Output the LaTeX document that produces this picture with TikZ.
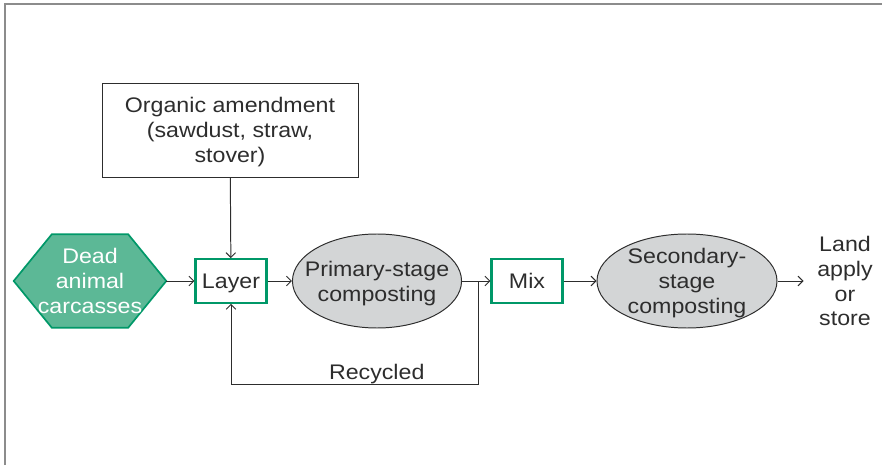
\documentclass[tikz,border=0pt]{standalone}
\usepackage{fontspec}
\setmainfont{Liberation Sans}[FakeStretch=1.1]
\usepackage{tikz}
\usetikzlibrary{arrows.meta}
\usetikzlibrary{positioning,backgrounds,calc}
\usetikzlibrary{shapes.geometric}
\definecolor{carcgreen}{RGB}{0,152,104}
\definecolor{carcfill}{RGB}{92,184,150}
\definecolor{compgray}{RGB}{211,213,214}
\definecolor{edgegray}{RGB}{45,45,45}
\definecolor{framegray}{RGB}{140,140,140}

\begin{document}
\begin{tikzpicture}[
    font=\fontsize{15}{17.6}\selectfont,
    every node/.append style={text depth=0pt},
    flow/.style={-{Straight Barb[length=1.2mm,width=2.4mm]},line width=0.7pt,edgegray},
    greenbox/.style={draw=carcgreen,line width=1.5pt,minimum width=1.775cm,
      minimum height=1.09cm,inner sep=0pt,text=edgegray},
    stagebox/.style={ellipse,draw=edgegray,fill=compgray,line width=0.7pt,
      inner xsep=-0.31cm,inner ysep=0pt,align=center,text=edgegray}]
    \useasboundingbox (0,0) rectangle (22.05,11.625);
    % frame
    \draw[framegray,line width=1pt] (0.125,0) -- (0.125,11.525) -- (22.05,11.525);
    % the boxes
    \node[draw=edgegray,line width=0.7pt,minimum width=6.4cm,minimum height=2.35cm,
      align=center,text=edgegray] (amend) at (5.75,8.375)
      {Organic amendment\\(sawdust, straw,\\stover)};
    \node[minimum width=3.8cm,minimum height=2.325cm,inner sep=0pt,align=center,
      text=white] (dead) at (2.25,4.6) {Dead\\animal\\carcasses};
    \begin{scope}[on background layer]
      \filldraw[fill=carcfill,draw=carcgreen,line width=1.2pt]
        (dead.west) -- ($(dead.north west)!0.25!(dead.north east)$)
        -- ($(dead.north west)!0.75!(dead.north east)$) -- (dead.east)
        -- ($(dead.south west)!0.75!(dead.south east)$)
        -- ($(dead.south west)!0.25!(dead.south east)$) -- cycle;
    \end{scope}
    \node[greenbox] (layer) at (5.775,4.6) {Layer};
    \node[stagebox,minimum width=4.075cm,minimum height=2.35cm] (prim) at (9.425,4.6)
      {Primary-stage\\composting};
    \node[greenbox] (mix) at (13.175,4.6) {Mix};
    \node[stagebox,minimum width=4.5cm,minimum height=2.35cm] (sec) at (17.175,4.6)
      {Secondary-\\stage\\composting};
    \node[align=center,text=edgegray,inner sep=0pt] (land) at (21.125,4.6)
      {Land\\apply\\or\\store};
    % the flow
    \coordinate (split) at (11.95,4.6);
    \coordinate (low) at (11.95,2.025);
    \draw[flow] (amend) -- (layer);
    \draw[flow] (dead) -- (layer);
    \draw[flow] (layer) -- (prim);
    \draw[line width=0.7pt,edgegray] (prim) -- (split);
    \draw[flow] (split) -- (mix);
    \draw[flow] (mix) -- (sec);
    \draw[flow] (sec.east) -- ++(0.65,0);
    % the loop back
    \draw[flow] (split) -- (low) -| (layer.south)
      node[pos=0.205,above,inner sep=3pt,text=edgegray] {Recycled};
\end{tikzpicture}
\end{document}
